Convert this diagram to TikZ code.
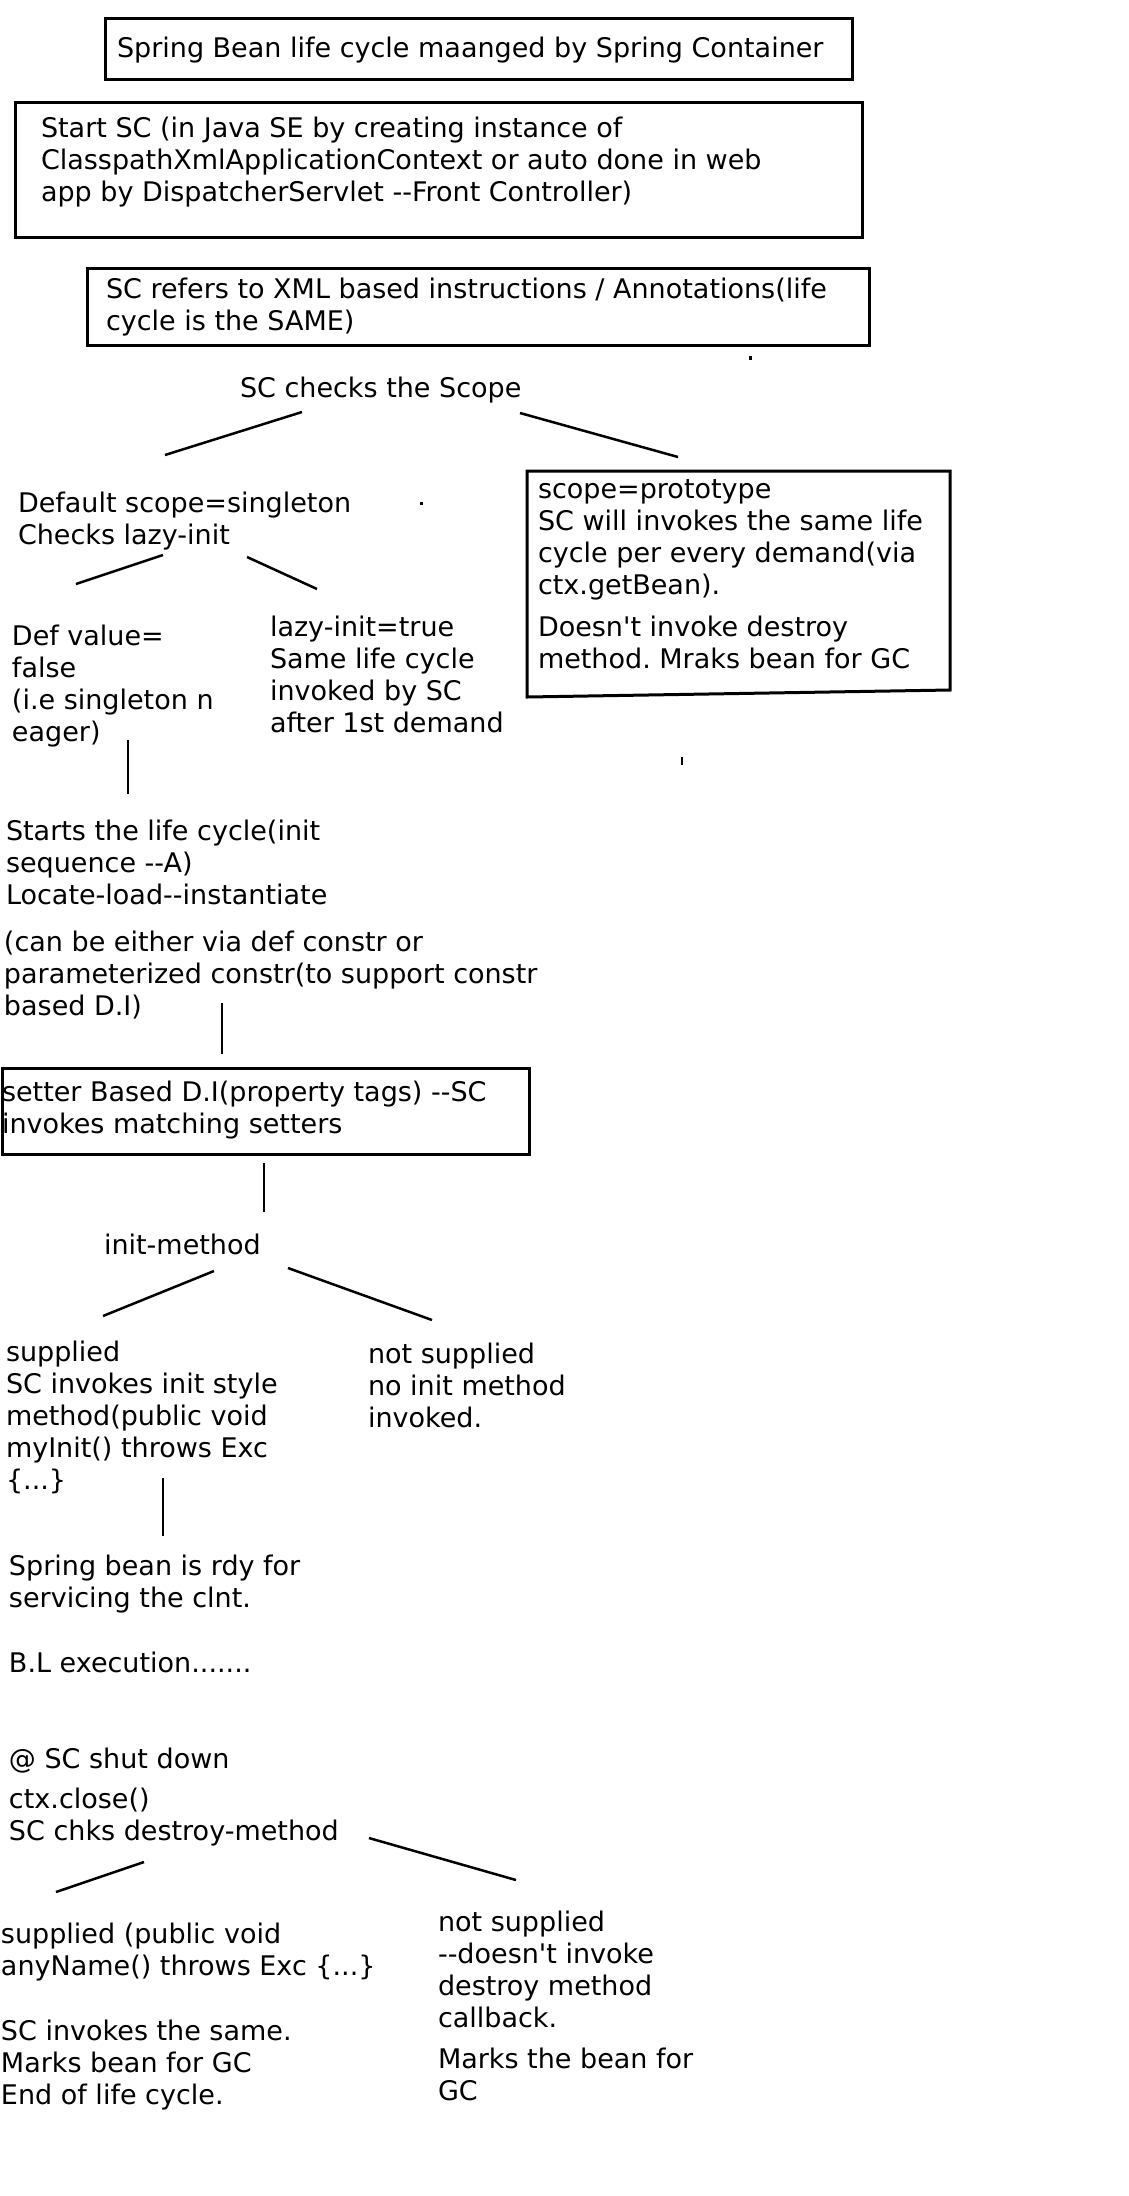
\documentclass[tikz,border=0pt]{standalone}
\usepackage{fontspec}
\setmainfont{DejaVu Sans}[Ligatures=TeXOff]
\frenchspacing
\begin{document}
\begin{tikzpicture}[x=1pt,y=-1pt,
  txt/.style={anchor=north west, inner sep=0pt, outer sep=0pt, align=left, font=\fontsize{27}{32}\selectfont\frenchspacing},
  frame/.style={draw, line width=3pt, anchor=north west, inner sep=0pt, outer sep=0pt},
  conn/.style={line width=2.5pt},
  vconn/.style={line width=2pt},
  speck/.style={fill=black}]
\useasboundingbox[fill=white] (0,0) rectangle (1128,2196);

% boxes
\node[frame, minimum width=747pt, minimum height=61pt] (titlebox) at (105,18) {};
\node[frame, minimum width=847pt, minimum height=135pt] (startbox) at (15,102) {};
\node[frame, minimum width=782pt, minimum height=77pt] (refersbox) at (87,268) {};
\node[frame, minimum width=527pt, minimum height=86pt] (setterbox) at (2,1068) {};
\draw[line width=3pt] (527,471) -- (950,471) -- (950,690) -- (527,697) -- cycle;

% texts
\node[txt] (title) at (117,34.6) {\strut Spring Bean life cycle maanged by Spring Container};
\node[txt] (start) at (41,114.6) {\strut Start SC (in Java SE by creating instance of\\ClasspathXmlApplicationContext or auto done in web\\app by DispatcherServlet --Front Controller)};
\node[txt] (refers) at (106,275.6) {\strut SC refers to XML based instructions / Annotations(life\\cycle is the SAME)};
\node[txt] (scope) at (240,374.6) {\strut SC checks the Scope};
\node[txt] (singleton) at (18,489.6) {\strut Default scope=singleton\\Checks lazy-init};
\node[txt] (proto) at (538,475.6) {\strut scope=prototype\\SC will invokes the same life\\cycle per every demand(via\\ctx.getBean).\\[10pt]Doesn't invoke destroy\\method. Mraks bean for GC};
\node[txt] (defval) at (12,622.6) {\strut Def value=\\false\\(i.e singleton n\\eager)};
\node[txt] (lazy) at (270,613.6) {\strut lazy-init=true\\Same life cycle\\invoked by SC\\after 1st demand};
\node[txt] (starts) at (6,817.6) {\strut Starts the life cycle(init\\sequence --A)\\Locate-load--instantiate};
\node[txt] (constr) at (4,928.6) {\strut (can be either via def constr or\\parameterized constr(to support constr\\based D.I)};
\node[txt] (setter) at (2,1078.6) {\strut setter Based D.I(property tags) --SC\\invokes matching setters};
\node[txt] (initm) at (104,1231.6) {\strut init-method};
\node[txt] (supp1) at (6,1338.6) {\strut supplied\\SC invokes init style\\method(public void\\myInit() throws Exc\\\{...\}};
\node[txt] (notsup1) at (368,1340.6) {\strut not supplied\\no init method\\invoked.};
\node[txt] (ready) at (9,1552.6) {\strut Spring bean is rdy for\\servicing the clnt.};
\node[txt] (bl) at (9,1649.6) {\strut B.L execution.......};
\node[txt] (shut) at (9,1745.6) {\strut @ SC shut down};
\node[txt] (close) at (9,1785.6) {\strut ctx.close()\\SC chks destroy-method};
\node[txt] (supp2) at (1,1920.6) {\strut supplied (public void\\anyName() throws Exc \{...\}\\[33pt]SC invokes the same.\\Marks bean for GC\\End of life cycle.};
\node[txt] (notsup2) at (438,1908.6) {\strut not supplied\\--doesn't invoke\\destroy method\\callback.\\[9pt]Marks the bean for\\GC};

% connector ends
\coordinate (a1) at (302,412); \coordinate (a2) at (165,455);
\coordinate (b1) at (520,413); \coordinate (b2) at (678,457);
\coordinate (c1) at (163,555); \coordinate (c2) at (76,584);
\coordinate (d1) at (247,557); \coordinate (d2) at (317,589);
\coordinate (e1) at (128,740); \coordinate (e2) at (128,794);
\coordinate (f1) at (222,1003); \coordinate (f2) at (222,1054);
\coordinate (g1) at (264,1163); \coordinate (g2) at (264,1212);
\coordinate (h1) at (214,1271); \coordinate (h2) at (103,1316);
\coordinate (i1) at (288,1268); \coordinate (i2) at (432,1320);
\coordinate (j1) at (163,1478); \coordinate (j2) at (163,1536);
\coordinate (k1) at (144,1862); \coordinate (k2) at (56,1892);
\coordinate (l1) at (369,1838); \coordinate (l2) at (516,1880);

\draw[conn] (a1) -- (a2);
\draw[conn] (b1) -- (b2);
\draw[conn] (c1) -- (c2);
\draw[conn] (d1) -- (d2);
\draw[vconn] (e1) -- (e2);
\draw[vconn] (f1) -- (f2);
\draw[vconn] (g1) -- (g2);
\draw[conn] (h1) -- (h2);
\draw[conn] (i1) -- (i2);
\draw[vconn] (j1) -- (j2);
\draw[conn] (k1) -- (k2);
\draw[conn] (l1) -- (l2);

% stray specks
\fill[speck] (749,356) rectangle (752,360);
\fill[speck] (420,502) rectangle (423,505);
\fill[speck] (681,757) rectangle (683,765);
\end{tikzpicture}
\end{document}
